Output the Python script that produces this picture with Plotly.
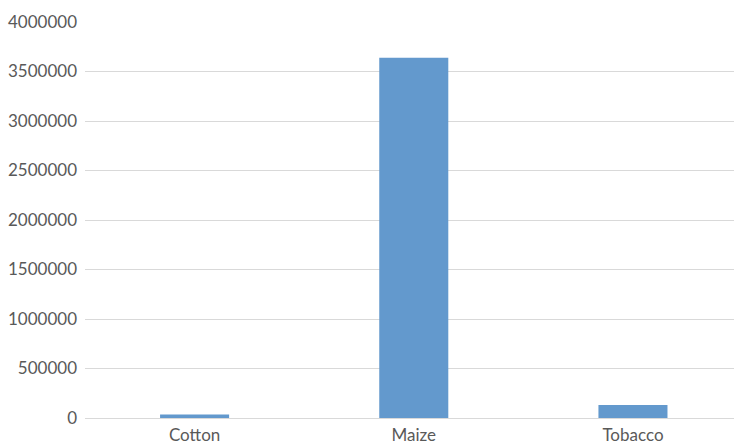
import plotly.graph_objects as go

categories = ["Cotton", "Maize", "Tobacco"]
values = [36000, 3640000, 131000]
y_ticks = [0, 500000, 1000000, 1500000, 2000000, 2500000, 3000000, 3500000, 4000000]

fig = go.Figure(go.Bar(
    x=categories, y=values,
    marker=dict(color="#6399CD", line=dict(width=0)),
    width=0.315,
))

font = dict(family="Lato, 'Open Sans', sans-serif", size=17, color="#595959")

fig.update_layout(
    width=734, height=445,
    margin=dict(l=85, r=0, t=22, b=27, autoexpand=False),
    paper_bgcolor="white", plot_bgcolor="white",
    font=font,
    showlegend=False,
    xaxis=dict(
        range=[-0.5, 2.461],
        showgrid=False, showline=False, zeroline=False,
        ticks="", ticklabelstandoff=5,
        tickfont=font,
    ),
    yaxis=dict(
        range=[0, 4000000],
        tickvals=y_ticks,
        ticktext=[str(v) for v in y_ticks],
        showgrid=True, gridcolor="#D9D9D9", gridwidth=1,
        zeroline=True, zerolinecolor="#D9D9D9", zerolinewidth=1,
        showline=False, ticks="", ticklabelstandoff=7,
        tickfont=font,
    ),
)

fig.write_html("out.html")
